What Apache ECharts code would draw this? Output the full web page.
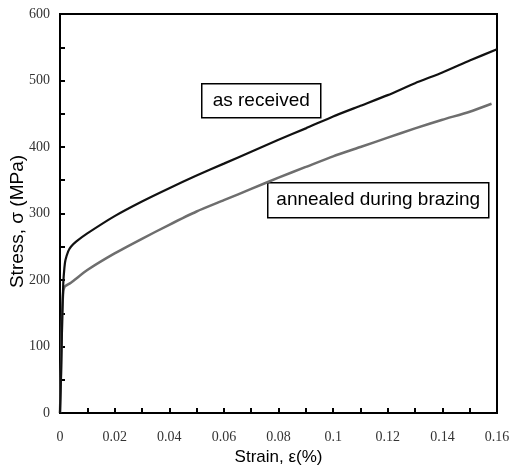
<!DOCTYPE html>
<html>
<head>
<meta charset="utf-8">
<script src="https://cdn.jsdelivr.net/npm/echarts@6/dist/echarts.min.js"></script>
<style>
  html, body { margin: 0; padding: 0; background: #fff; }
  #chart { width: 510px; height: 468px; }
</style>
</head>
<body>
<div id="chart"></div>
<script>
// strain (%) and stress (MPa)
var receivedStrain = [0, 0.0004, 0.0008, 0.0012, 0.0016, 0.002, 0.003, 0.004, 0.006, 0.01, 0.02, 0.03, 0.04, 0.05, 0.06, 0.07, 0.08, 0.09, 0.1, 0.11, 0.12, 0.13, 0.14, 0.15, 0.16];
var receivedStress = [0, 60, 140, 195, 218, 230, 243, 250, 258, 270, 296, 318, 338, 357, 375, 393, 411, 428, 446, 462, 478, 496, 512, 530, 547];

var annealedStrain = [0, 0.0004, 0.0008, 0.0012, 0.0016, 0.002, 0.004, 0.01, 0.02, 0.03, 0.04, 0.05, 0.06, 0.07, 0.08, 0.09, 0.1, 0.11, 0.12, 0.13, 0.14, 0.15, 0.158];
var annealedStress = [0, 70, 150, 183, 189, 191, 196, 215, 240, 262, 283, 303, 320, 337, 354, 370, 386, 400, 414, 428, 441, 453, 465];

function pairs(xs, ys) {
  var out = [];
  for (var i = 0; i < xs.length; i++) {
    out.push([xs[i], ys[i]]);
  }
  return out;
}

var chart = echarts.init(document.getElementById('chart'));
var tickFont = { fontFamily: 'Liberation Serif', fontSize: 14, color: '#333' };

var option = {
  animation: false,
  backgroundColor: '#fff',
  grid: {
    left: 60, top: 14, right: 13, bottom: 55,
    outerBoundsMode: 'none',
    containLabel: false,
    show: true, borderColor: '#000', borderWidth: 2
  },
  xAxis: {
    type: 'value',
    min: 0, max: 0.16, interval: 0.02,
    name: 'Strain, ε(%)',
    nameLocation: 'middle',
    nameGap: 35,
    nameTextStyle: { fontFamily: 'Liberation Sans', fontSize: 17, color: '#000' },
    axisLine: { lineStyle: { color: '#000', width: 2 } },
    axisTick: { inside: true, length: 5, lineStyle: { color: '#000', width: 2 } },
    minorTick: { show: true, splitNumber: 2, length: 5, lineStyle: { color: '#000', width: 2 } },
    splitLine: { show: false },
    axisLabel: Object.assign({
      margin: 17,
      formatter: function (v) { return String(parseFloat(v.toFixed(2))); }
    }, tickFont)
  },
  yAxis: {
    type: 'value',
    min: 0, max: 600, interval: 100,
    name: 'Stress, σ (MPa)',
    nameLocation: 'middle',
    nameGap: 33,
    nameMoveOverlap: false,
    // right padding nudges the rotated title down a little
    nameTextStyle: { fontFamily: 'Liberation Sans', fontSize: 19, color: '#000', padding: [0, 16, 0, 0] },
    axisLine: { lineStyle: { color: '#000', width: 2 } },
    axisTick: { inside: true, length: 5, lineStyle: { color: '#000', width: 2 } },
    minorTick: { show: true, splitNumber: 2, length: 5, lineStyle: { color: '#000', width: 2 } },
    splitLine: { show: false },
    axisLabel: Object.assign({ margin: 10 }, tickFont)
  },
  series: [
    {
      name: 'annealed during brazing',
      type: 'line',
      showSymbol: false,
      smooth: 0.2,
      data: pairs(annealedStrain, annealedStress),
      lineStyle: { color: '#6e6e6e', width: 2.5 }
    },
    {
      name: 'as received',
      type: 'line',
      showSymbol: false,
      smooth: 0.2,
      data: pairs(receivedStrain, receivedStress),
      lineStyle: { color: '#111', width: 2.2 }
    }
  ],
  graphic: [
    {
      type: 'group', left: 201, top: 83,
      children: [
        { type: 'rect', shape: { x: 0, y: 0, width: 119, height: 34 },
          style: { fill: '#fff', stroke: '#000', lineWidth: 1.5 } },
        { type: 'text', x: 59.5, y: 17,
          style: { text: 'as received', font: '19px "Liberation Sans"', fill: '#000',
                   textAlign: 'center', textVerticalAlign: 'middle' } }
      ]
    },
    {
      type: 'group', left: 267, top: 182,
      children: [
        { type: 'rect', shape: { x: 0, y: 0, width: 221, height: 35 },
          style: { fill: '#fff', stroke: '#000', lineWidth: 1.5 } },
        { type: 'text', x: 110.5, y: 17.5,
          style: { text: 'annealed during brazing', font: '19px "Liberation Sans"', fill: '#000',
                   textAlign: 'center', textVerticalAlign: 'middle' } }
      ]
    }
  ]
};

chart.setOption(option);
</script>
</body>
</html>
